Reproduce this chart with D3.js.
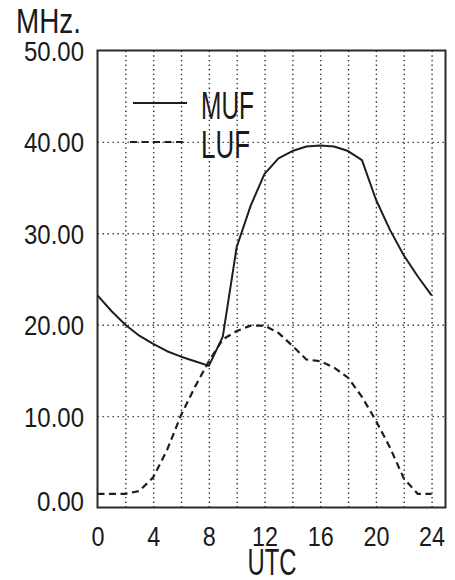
<!DOCTYPE html>
<html>
<head>
<meta charset="utf-8">
<script src="https://cdn.jsdelivr.net/npm/d3@7"></script>
<style>
  html, body { margin: 0; padding: 0; background: #fff; }
  svg { display: block; }
  text { font-family: "Liberation Sans Narrow", "Liberation Sans", Arial, sans-serif; fill: #1a1a1a; }
</style>
</head>
<body>
<svg id="chart" width="455" height="580"></svg>
<script>
// ---- data ----
const hours = [0,1,2,3,4,5,6,7,8,9,10,11,12,13,14,15,16,17,18,19,20,21,22,23,24];
const muf = [23.2,21.5,20.0,18.8,17.9,17.1,16.5,16.0,15.5,18.7,28.5,33.0,36.5,38.2,39.0,39.5,39.6,39.5,39.0,38.0,33.7,30.4,27.6,25.3,23.2];
const luf = [1.5,1.5,1.5,1.8,3.3,6.3,10.1,13.2,16.0,18.4,19.3,19.9,19.9,19.1,17.7,16.2,16.0,15.3,14.2,12.1,9.5,6.6,3.2,1.5,1.5];
const xTicks = [0,4,8,12,16,20,24];
const xGrid = [2,4,6,8,10,12,14,16,18,20,22,24];
const yTicks = [0,10,20,30,40,50];
const yGrid = [10,20,30,40];
const seriesNames = ["MUF","LUF"];
const yUnit = "MHz.";
const xTitle = "UTC";

// ---- layout ----
const svg = d3.select("#chart");
const pL = 97.5, pR = 445.5, pT = 50.5, pB = 507.5;
const x = d3.scaleLinear().domain([0, 25]).range([pL, pR]);
const y = d3.scaleLinear().domain([0, 50]).range([pB, pT]);
const ink = "#1e1e1e";
const fam = "'Liberation Sans Narrow', 'Liberation Sans', Arial, sans-serif";

// grid (dotted)
const gx = svg.append("g").attr("transform", `translate(0,${pB})`)
  .call(d3.axisBottom(x).tickValues(xGrid).tickSize(-(pB - pT)).tickFormat(""));
gx.select(".domain").remove();
gx.selectAll("line").attr("stroke", "#333").attr("stroke-width", 1.4).attr("stroke-dasharray", "1.4,3.2");

const gy = svg.append("g").attr("transform", `translate(${pL},0)`)
  .call(d3.axisLeft(y).tickValues(yGrid).tickSize(-(pR - pL)).tickFormat(""));
gy.select(".domain").remove();
gy.selectAll("line").attr("stroke", "#333").attr("stroke-width", 1.4).attr("stroke-dasharray", "1.4,3.6");

// frame
svg.append("rect").attr("x", pL).attr("y", pT)
  .attr("width", pR - pL).attr("height", pB - pT)
  .attr("fill", "none").attr("stroke", "#2a2a2a").attr("stroke-width", 2);

// lines
const line = d3.line().x((d, i) => x(hours[i])).y(d => y(d));
svg.append("path").datum(muf).attr("d", line)
  .attr("fill", "none").attr("stroke", ink).attr("stroke-width", 2).attr("stroke-linejoin", "round");
svg.append("path").datum(luf).attr("d", line)
  .attr("fill", "none").attr("stroke", ink).attr("stroke-width", 2.2).attr("stroke-dasharray", "7,4.5");

// y-axis labels
const ya = svg.append("g").attr("transform", `translate(84,0)`)
  .call(d3.axisLeft(y).tickValues(yTicks).tickSize(0).tickPadding(0).tickFormat(d3.format(".2f")));
ya.select(".domain").remove();
ya.selectAll("text")
  .attr("font-size", 27.5)
  .attr("fill", ink)
  .attr("text-anchor", "end")
  .attr("x", 0)
  .attr("dy", null)
  .attr("y", d => d === 0 ? 10 - 7 : 10)
  .attr("textLength", function() { return this.textContent.length === 5 ? 60 : 47; })
  .attr("lengthAdjust", "spacingAndGlyphs")
  .style("font-family", fam);

// x-axis labels
const xa = svg.append("g").attr("transform", `translate(0,546)`)
  .call(d3.axisBottom(x).tickValues(xTicks).tickSize(0).tickPadding(0).tickFormat(d3.format("d")));
xa.select(".domain").remove();
xa.selectAll("text")
  .attr("font-size", 27)
  .attr("fill", ink)
  .attr("y", 0)
  .attr("dy", null)
  .attr("textLength", function() { return this.textContent.length * 13; })
  .attr("lengthAdjust", "spacingAndGlyphs")
  .style("font-family", fam);

// axis titles
svg.append("text").attr("x", 16).attr("y", 33).attr("font-size", 35)
  .attr("textLength", 65).attr("lengthAdjust", "spacingAndGlyphs").text(yUnit);
svg.append("text").attr("x", 272).attr("y", 575).attr("text-anchor", "middle").attr("font-size", 36)
  .attr("textLength", 49).attr("lengthAdjust", "spacingAndGlyphs").text(xTitle);

// legend
const leg = svg.append("g");
leg.append("line").attr("x1", 133).attr("x2", 187).attr("y1", 103).attr("y2", 103)
  .attr("stroke", ink).attr("stroke-width", 2);
leg.append("line").attr("x1", 130).attr("x2", 184).attr("y1", 142).attr("y2", 142)
  .attr("stroke", ink).attr("stroke-width", 2.2).attr("stroke-dasharray", "7,4.5");
leg.append("text").attr("x", 201).attr("y", 119).attr("font-size", 39)
  .attr("textLength", 53).attr("lengthAdjust", "spacingAndGlyphs").text(seriesNames[0]);
leg.append("text").attr("x", 201).attr("y", 158).attr("font-size", 39)
  .attr("textLength", 49).attr("lengthAdjust", "spacingAndGlyphs").text(seriesNames[1]);
</script>
</body>
</html>
